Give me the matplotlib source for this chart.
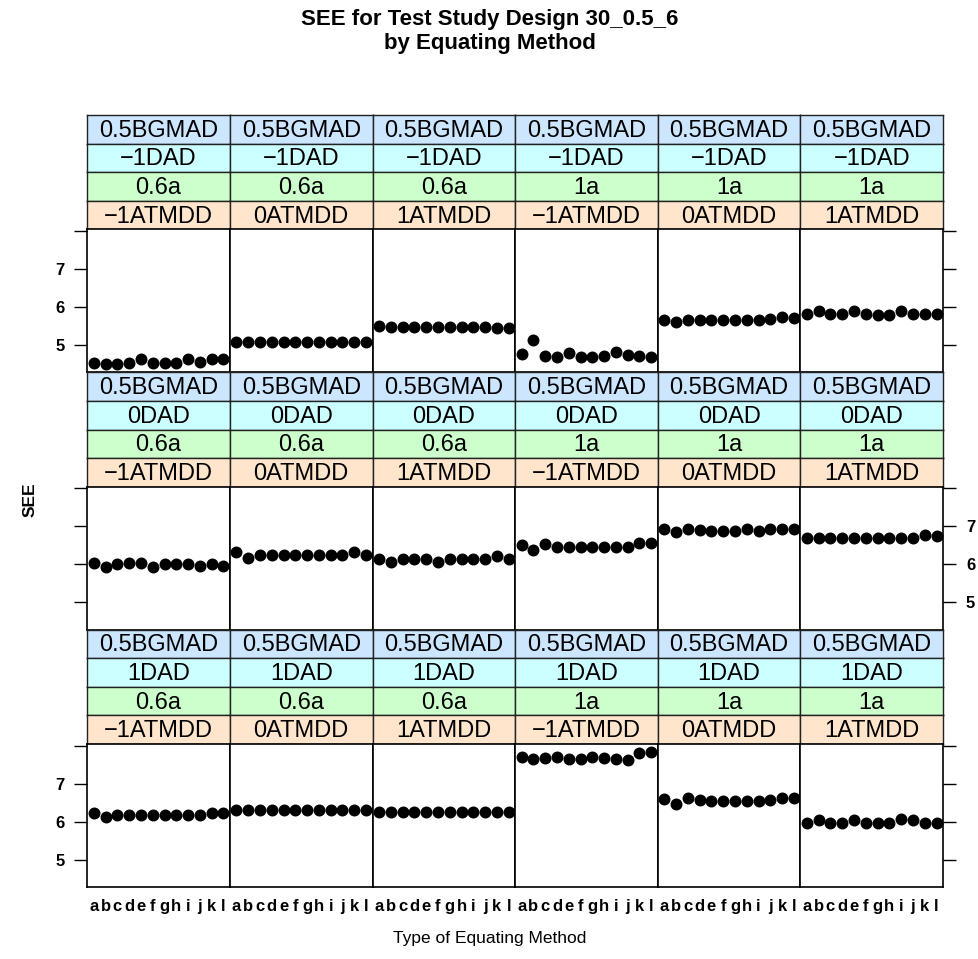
import matplotlib.pyplot as plt
import numpy as np

plt.rcParams['font.family'] = ['Liberation Sans', 'DejaVu Sans']

# equating methods a..l on the x axis
methods = list("abcdefghijkl")

# conditioning levels
bgmad_levels = ["0.5BGMAD"]
dad_levels = ["\u22121DAD", "0DAD", "1DAD"]
a_levels = ["0.6a", "0.6a", "0.6a", "1a", "1a", "1a"]
atmdd_levels = ["\u22121ATMDD", "0ATMDD", "1ATMDD", "\u22121ATMDD", "0ATMDD", "1ATMDD"]

# SEE per panel, one list per column, for each DAD level
see_dad_m1 = [
    [4.53, 4.51, 4.51, 4.53, 4.63, 4.53, 4.52, 4.53, 4.64, 4.56, 4.62, 4.62],
    [5.08, 5.08, 5.08, 5.08, 5.08, 5.08, 5.08, 5.08, 5.08, 5.08, 5.08, 5.08],
    [5.50, 5.48, 5.48, 5.48, 5.48, 5.48, 5.48, 5.48, 5.48, 5.47, 5.44, 5.45],
    [4.75, 5.13, 4.71, 4.69, 4.80, 4.69, 4.69, 4.70, 4.81, 4.74, 4.71, 4.69],
    [5.66, 5.60, 5.66, 5.66, 5.66, 5.66, 5.66, 5.66, 5.66, 5.67, 5.73, 5.72],
    [5.82, 5.88, 5.81, 5.81, 5.88, 5.82, 5.80, 5.80, 5.89, 5.82, 5.81, 5.82],
]
see_dad_0 = [
    [6.02, 5.94, 6.01, 6.02, 6.02, 5.94, 6.01, 6.01, 6.00, 5.95, 6.01, 5.95],
    [6.31, 6.16, 6.24, 6.23, 6.23, 6.23, 6.23, 6.23, 6.23, 6.24, 6.33, 6.23],
    [6.13, 6.06, 6.13, 6.13, 6.13, 6.06, 6.13, 6.13, 6.13, 6.14, 6.21, 6.13],
    [6.50, 6.38, 6.52, 6.46, 6.46, 6.46, 6.46, 6.46, 6.46, 6.46, 6.57, 6.55],
    [6.92, 6.86, 6.94, 6.90, 6.88, 6.88, 6.88, 6.94, 6.87, 6.94, 6.94, 6.93],
    [6.68, 6.68, 6.68, 6.68, 6.68, 6.68, 6.68, 6.68, 6.68, 6.70, 6.76, 6.74],
]
see_dad_1 = [
    [6.23, 6.12, 6.16, 6.16, 6.16, 6.16, 6.16, 6.16, 6.17, 6.18, 6.22, 6.23],
    [6.30, 6.30, 6.30, 6.30, 6.30, 6.30, 6.30, 6.30, 6.30, 6.30, 6.30, 6.30],
    [6.25, 6.25, 6.25, 6.25, 6.25, 6.25, 6.25, 6.25, 6.25, 6.25, 6.25, 6.25],
    [7.69, 7.64, 7.68, 7.70, 7.64, 7.65, 7.70, 7.68, 7.65, 7.62, 7.81, 7.82],
    [6.60, 6.47, 6.63, 6.56, 6.55, 6.55, 6.55, 6.55, 6.55, 6.56, 6.62, 6.61],
    [5.95, 6.05, 5.96, 5.96, 6.05, 5.97, 5.96, 5.96, 6.06, 6.05, 5.96, 5.96],
]
rows = [see_dad_m1, see_dad_0, see_dad_1]

# lattice strip colours, outer variable at the bottom
strip_cols = ["#cce6ff", "#ccffff", "#ccffcc", "#ffe5cc"]

W, H = 979, 959
fig = plt.figure(figsize=(W / 100, H / 100), dpi=100)

def box(x, y, w, h):
    # pixel box (top-left origin) -> figure fraction rect
    return [x / W, 1 - (y + h) / H, w / W, h / H]

x0, x1 = 87.3, 943.0
cw = (x1 - x0) / 6
top = 115.0
sh = 28.6
ph = 142.9
bh = 4 * sh + ph

x = np.arange(1, 13)

for r in range(3):
    btop = top + r * bh
    for c in range(6):
        labels = [bgmad_levels[0], dad_levels[r], a_levels[c], atmdd_levels[c]]
        for k in range(4):
            sa = fig.add_axes(box(x0 + c * cw, btop + k * sh, cw, sh))
            sa.set_facecolor(strip_cols[k])
            sa.set_xticks([])
            sa.set_yticks([])
            for s in sa.spines.values():
                s.set_linewidth(1.0)
                s.set_color("#222222")
            sa.text(0.5, 0.45, labels[k], ha="center", va="center",
                    fontsize=17, transform=sa.transAxes)

        ax = fig.add_axes(box(x0 + c * cw, btop + 4 * sh, cw, ph))
        ax.plot(x, rows[r][c], "o", color="black", ms=8.6, mew=0)
        ax.set_xlim(0.45, 12.55)
        ax.set_ylim(4.28, 8.04)
        for s in ax.spines.values():
            s.set_linewidth(1.2)
        ax.set_yticks([5, 6, 7, 8])
        ax.tick_params(axis="y", direction="out", length=9.5, width=1,
                       pad=7, labelsize=12)
        ax.tick_params(axis="y", left=False, right=False,
                       labelleft=False, labelright=False)
        if c == 0:
            ax.tick_params(axis="y", left=True, labelleft=(r != 1))
        if c == 5:
            ax.tick_params(axis="y", right=True, labelright=(r == 1))
        ax.set_yticklabels(["5", "6", "7", ""], fontweight="bold")
        if r == 2:
            ax.set_xticks(x)
            ax.set_xticklabels(methods, fontweight="bold")
            ax.tick_params(axis="x", length=0, pad=9, labelsize=12)
        else:
            ax.set_xticks([])

fig.text(0.5, 1 - 20 / H, "SEE for Test Study Design 30_0.5_6", ha="center",
         va="center", fontsize=16, fontweight="bold")
fig.text(0.5, 1 - 44 / H, "by Equating Method", ha="center", va="center",
         fontsize=16, fontweight="bold")
fig.text(0.5, 1 - 938 / H, "Type of Equating Method", ha="center",
         va="center", fontsize=12.5)
fig.text(30 / W, 1 - 500 / H, "SEE", ha="center", va="center", rotation=90,
         fontsize=12.5, fontweight="bold")

fig.savefig("out.png", dpi=100)
